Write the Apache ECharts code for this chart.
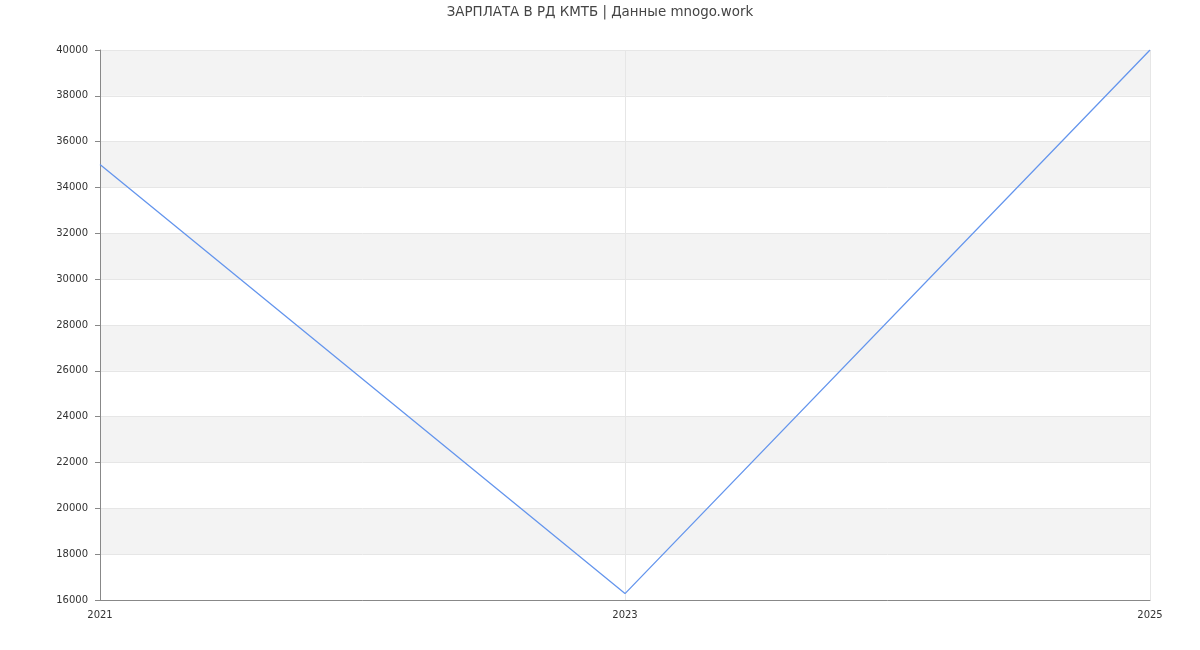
<!DOCTYPE html>
<html>
<head>
<meta charset="utf-8">
<script src="https://cdn.jsdelivr.net/npm/echarts@6/dist/echarts.min.js"></script>
<style>html,body{margin:0;padding:0;background:#fff}#c{width:1200px;height:650px}</style>
</head>
<body>
<div id="c"></div>
<script>
const titleText = 'ЗАРПЛАТА В РД КМТБ | Данные mnogo.work';
const years = ['2021', '2023', '2025'];
const salary = [35000, 16280, 40000];

const chart = echarts.init(document.getElementById('c'), null, {renderer: 'canvas'});
chart.setOption({
  animation: false,
  backgroundColor: '#fff',
  title: {
    text: titleText, left: 'center', top: 1,
    textStyle: {fontFamily: 'DejaVu Sans', fontSize: 13.4, fontWeight: 'normal', color: '#444'}
  },
  grid: {left: 100, right: 50, top: 50, bottom: 50, containLabel: false},
  xAxis: {
    type: 'category', data: years, boundaryGap: false,
    axisLine: {lineStyle: {color: '#888'}},
    axisTick: {show: false},
    axisLabel: {fontFamily: 'DejaVu Sans', fontSize: 10, color: '#333', margin: 10,
      formatter: v => v},
    splitLine: {show: true, lineStyle: {color: '#e6e6e6'}}
  },
  yAxis: {
    type: 'value', min: 16000, max: 40000, interval: 2000,
    axisLine: {show: true, lineStyle: {color: '#888'}},
    axisTick: {show: true, length: 5, lineStyle: {color: '#888'}},
    axisLabel: {fontFamily: 'DejaVu Sans', fontSize: 10, color: '#333', margin: 12,
      formatter: v => String(v)},
    splitLine: {show: true, lineStyle: {color: '#e6e6e6'}},
    splitArea: {show: true, areaStyle: {color: ['#ffffff', '#f3f3f3']}}
  },
  series: [{
    type: 'line', data: salary, showSymbol: false, symbol: 'none',
    lineStyle: {color: '#6495ED', width: 1.3}
  }]
});
</script>
</body>
</html>
